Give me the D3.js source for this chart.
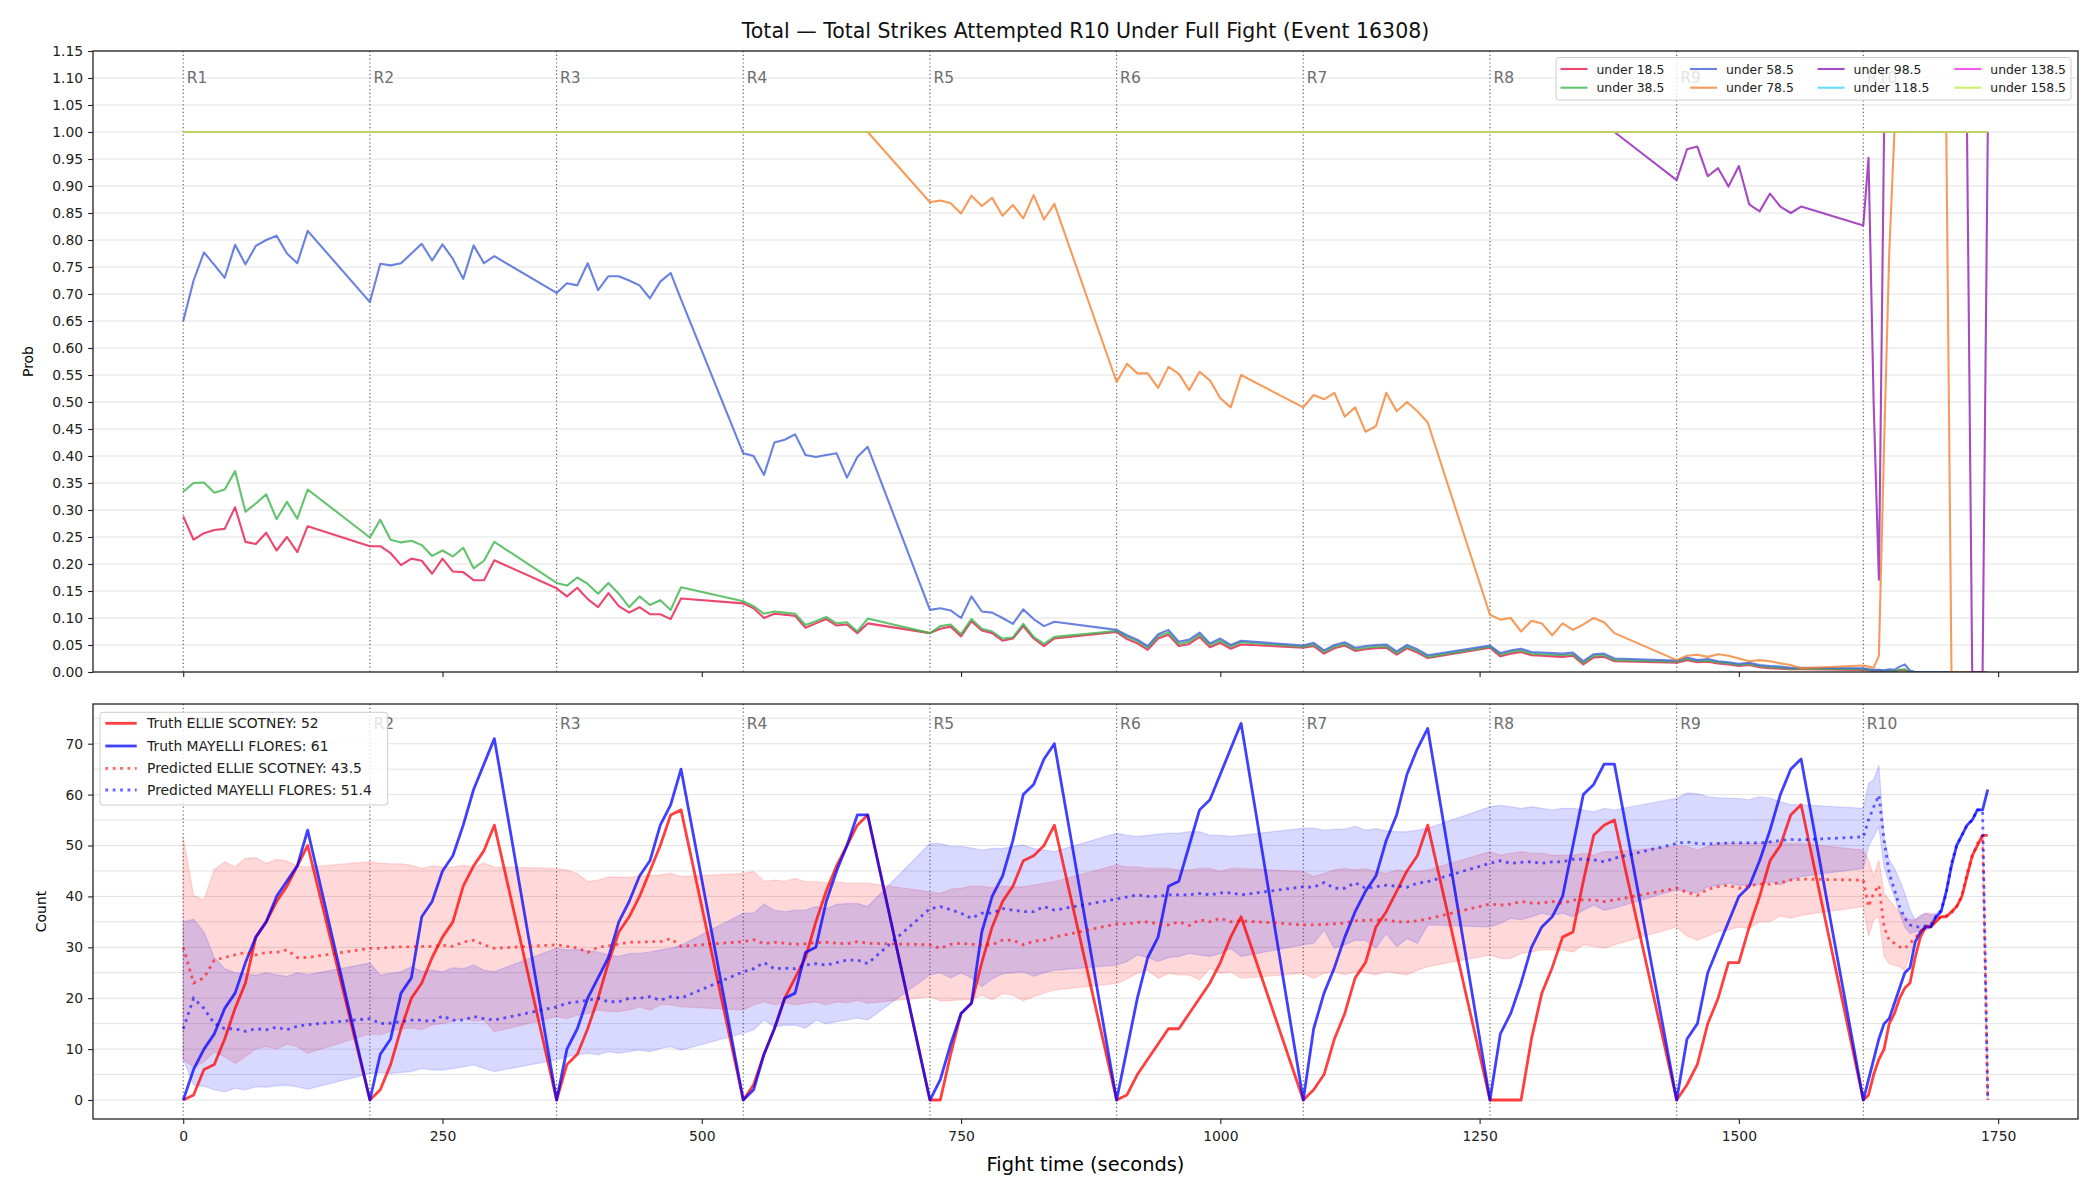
<!DOCTYPE html>
<html>
<head>
<meta charset="utf-8">
<title>Total Strikes Attempted R10</title>
<script src="https://cdn.jsdelivr.net/npm/d3@7"></script>
<style>
  body { margin: 0; background: #fff; }
  svg { display: block; font-family: "DejaVu Sans", sans-serif; }
</style>
</head>
<body>
<div id="chart"></div>
<script>
// rounds: start second + where the samples sit inside a round
var roundStarts = [0, 180, 360, 540, 720, 900, 1080, 1260, 1440, 1620];
var roundNames = ["R1", "R2", "R3", "R4", "R5", "R6", "R7", "R8", "R9", "R10"];
var offsets = [0, 10, 20, 30, 40, 50, 60, 70, 80, 90, 100, 110, 120];
// last round is sampled finer (5s)
var lastOffsets = [0, 5, 10, 15, 20, 25, 30, 35, 40, 45, 50, 55, 60, 65, 70, 75, 80, 85, 90, 95, 100, 105, 110, 115, 120];

var titleText = "Total \u2014 Total Strikes Attempted R10 Under Full Fight (Event 16308)";
var probTicks = [0, 0.05, 0.1, 0.15, 0.2, 0.25, 0.3, 0.35, 0.4, 0.45, 0.5, 0.55, 0.6, 0.65, 0.7, 0.75, 0.8, 0.85, 0.9, 0.95, 1, 1.05, 1.1, 1.15];
var countTicks = [0, 10, 20, 30, 40, 50, 60, 70];
var countGrid = [0, 5, 10, 15, 20, 25, 30, 35, 40, 45, 50, 55, 60, 65, 70, 75];
var timeTicks = [0, 250, 500, 750, 1000, 1250, 1500, 1750];

// top panel: P(total < line)
var lineNames = ["under 18.5", "under 38.5", "under 58.5", "under 78.5", "under 98.5", "under 118.5", "under 138.5", "under 158.5"];
var lineColors = ["#e6194B", "#3cb44b", "#4363d8", "#f58231", "#911eb4", "#42d4f4", "#f032e6", "#bfef45"];

var under18 = [
  [0.288, 0.245, 0.257, 0.263, 0.265, 0.305, 0.241, 0.237, 0.258, 0.225, 0.25, 0.222, 0.27],
  [0.233, 0.233, 0.22, 0.198, 0.21, 0.206, 0.182, 0.21, 0.186, 0.185, 0.17, 0.17, 0.207],
  [0.155, 0.14, 0.156, 0.135, 0.12, 0.146, 0.122, 0.11, 0.12, 0.107, 0.107, 0.098, 0.136],
  [0.127, 0.118, 0.1, 0.108, 0.106, 0.104, 0.082, 0.09, 0.098, 0.086, 0.088, 0.072, 0.09],
  [0.072, 0.08, 0.084, 0.066, 0.094, 0.077, 0.072, 0.058, 0.062, 0.085, 0.062, 0.048, 0.062],
  [0.074, 0.061, 0.053, 0.041, 0.062, 0.069, 0.048, 0.052, 0.065, 0.046, 0.054, 0.043, 0.051],
  [0.045, 0.048, 0.034, 0.044, 0.049, 0.039, 0.042, 0.044, 0.045, 0.032, 0.044, 0.036, 0.026],
  [0.045, 0.029, 0.034, 0.037, 0.031, 0.03, 0.029, 0.028, 0.03, 0.014, 0.027, 0.028, 0.02],
  [0.017, 0.022, 0.018, 0.019, 0.016, 0.014, 0.011, 0.013, 0.009, 0.007, 0.006, 0.005, 0.005],
  [0.004, 0.003, 0.002, 0.002, 0.001, 0.002, 0.001, 0.003, 0.003, 0, 0, 0, 0, 0, 0, 0, 0, 0, 0, 0, 0, 0, 0, 0, 0]
];
var under38 = [
  [0.334, 0.35, 0.351, 0.332, 0.338, 0.372, 0.297, 0.312, 0.329, 0.283, 0.315, 0.284, 0.338],
  [0.249, 0.282, 0.245, 0.24, 0.243, 0.235, 0.215, 0.225, 0.214, 0.23, 0.192, 0.206, 0.241],
  [0.165, 0.16, 0.175, 0.163, 0.145, 0.165, 0.145, 0.12, 0.14, 0.124, 0.133, 0.115, 0.157],
  [0.131, 0.122, 0.108, 0.112, 0.11, 0.108, 0.087, 0.094, 0.102, 0.09, 0.092, 0.075, 0.099],
  [0.072, 0.085, 0.088, 0.07, 0.098, 0.08, 0.075, 0.062, 0.064, 0.089, 0.065, 0.052, 0.065],
  [0.076, 0.065, 0.057, 0.045, 0.066, 0.073, 0.052, 0.056, 0.069, 0.05, 0.058, 0.047, 0.055],
  [0.047, 0.051, 0.037, 0.047, 0.052, 0.042, 0.045, 0.047, 0.048, 0.035, 0.047, 0.039, 0.028],
  [0.047, 0.032, 0.037, 0.04, 0.034, 0.033, 0.032, 0.031, 0.033, 0.017, 0.03, 0.031, 0.022],
  [0.019, 0.024, 0.02, 0.021, 0.018, 0.016, 0.013, 0.015, 0.011, 0.009, 0.008, 0.006, 0.006],
  [0.005, 0.004, 0.003, 0.003, 0.002, 0.003, 0.002, 0.004, 0.005, 0.001, 0, 0, 0, 0, 0, 0, 0, 0, 0, 0, 0, 0, 0, 0, 0]
];
var under58 = [
  [0.65, 0.725, 0.777, 0.754, 0.73, 0.791, 0.755, 0.789, 0.8, 0.808, 0.775, 0.757, 0.817],
  [0.685, 0.756, 0.753, 0.757, 0.775, 0.793, 0.762, 0.792, 0.765, 0.728, 0.79, 0.757, 0.77],
  [0.702, 0.72, 0.716, 0.757, 0.707, 0.733, 0.733, 0.725, 0.716, 0.692, 0.723, 0.739, 0.69],
  [0.405, 0.4, 0.365, 0.425, 0.43, 0.44, 0.402, 0.398, 0.402, 0.405, 0.36, 0.398, 0.417],
  [0.115, 0.118, 0.114, 0.1, 0.14, 0.112, 0.11, 0.1, 0.089, 0.116, 0.098, 0.085, 0.093],
  [0.078, 0.068, 0.06, 0.048, 0.07, 0.078, 0.056, 0.06, 0.073, 0.053, 0.062, 0.05, 0.058],
  [0.049, 0.054, 0.04, 0.05, 0.055, 0.045, 0.048, 0.05, 0.051, 0.038, 0.05, 0.042, 0.031],
  [0.049, 0.035, 0.04, 0.043, 0.037, 0.036, 0.035, 0.034, 0.036, 0.02, 0.033, 0.034, 0.025],
  [0.021, 0.027, 0.022, 0.024, 0.02, 0.018, 0.015, 0.017, 0.013, 0.011, 0.01, 0.008, 0.008],
  [0.007, 0.005, 0.004, 0.004, 0.003, 0.005, 0.004, 0.01, 0.014, 0.003, 0, 0, 0, 0, 0, 0, 0, 0, 0, 0, 0, 0, 0, 0, 0]
];
var under78 = [
  [1, 1, 1, 1, 1, 1, 1, 1, 1, 1, 1, 1, 1],
  [1, 1, 1, 1, 1, 1, 1, 1, 1, 1, 1, 1, 1],
  [1, 1, 1, 1, 1, 1, 1, 1, 1, 1, 1, 1, 1],
  [1, 1, 1, 1, 1, 1, 1, 1, 1, 1, 1, 1, 1],
  [0.87, 0.873, 0.868, 0.849, 0.882, 0.863, 0.878, 0.845, 0.865, 0.84, 0.883, 0.838, 0.867],
  [0.537, 0.571, 0.553, 0.553, 0.526, 0.565, 0.552, 0.522, 0.556, 0.54, 0.507, 0.49, 0.55],
  [0.49, 0.513, 0.505, 0.517, 0.473, 0.49, 0.445, 0.455, 0.517, 0.483, 0.5, 0.483, 0.462],
  [0.106, 0.097, 0.1, 0.075, 0.095, 0.09, 0.068, 0.09, 0.078, 0.088, 0.1, 0.092, 0.072],
  [0.022, 0.03, 0.032, 0.028, 0.033, 0.03, 0.025, 0.02, 0.022, 0.02, 0.016, 0.013, 0.007],
  [0.012, 0.01, 0.008, 0.03, 0.418, 0.777, 1, 1, 1, 1, 1, 1, 1, 1, 1, 1, 1, 0, 0, 0, 0, 0, 0, 0, 0]
];
var under98 = [
  [1, 1, 1, 1, 1, 1, 1, 1, 1, 1, 1, 1, 1],
  [1, 1, 1, 1, 1, 1, 1, 1, 1, 1, 1, 1, 1],
  [1, 1, 1, 1, 1, 1, 1, 1, 1, 1, 1, 1, 1],
  [1, 1, 1, 1, 1, 1, 1, 1, 1, 1, 1, 1, 1],
  [1, 1, 1, 1, 1, 1, 1, 1, 1, 1, 1, 1, 1],
  [1, 1, 1, 1, 1, 1, 1, 1, 1, 1, 1, 1, 1],
  [1, 1, 1, 1, 1, 1, 1, 1, 1, 1, 1, 1, 1],
  [1, 1, 1, 1, 1, 1, 1, 1, 1, 1, 1, 1, 1],
  [0.911, 0.968, 0.973, 0.918, 0.933, 0.899, 0.937, 0.866, 0.853, 0.886, 0.862, 0.85, 0.862],
  [0.827, 0.952, 0.495, 0.171, 1, 1, 1, 1, 1, 1, 1, 1, 1, 1, 1, 1, 1, 1, 1, 1, 1, 0, 0, 0, 1]
];
var under118 = [
  [1, 1, 1, 1, 1, 1, 1, 1, 1, 1, 1, 1, 1],
  [1, 1, 1, 1, 1, 1, 1, 1, 1, 1, 1, 1, 1],
  [1, 1, 1, 1, 1, 1, 1, 1, 1, 1, 1, 1, 1],
  [1, 1, 1, 1, 1, 1, 1, 1, 1, 1, 1, 1, 1],
  [1, 1, 1, 1, 1, 1, 1, 1, 1, 1, 1, 1, 1],
  [1, 1, 1, 1, 1, 1, 1, 1, 1, 1, 1, 1, 1],
  [1, 1, 1, 1, 1, 1, 1, 1, 1, 1, 1, 1, 1],
  [1, 1, 1, 1, 1, 1, 1, 1, 1, 1, 1, 1, 1],
  [1, 1, 1, 1, 1, 1, 1, 1, 1, 1, 1, 1, 1],
  [1, 1, 1, 1, 1, 1, 1, 1, 1, 1, 1, 1, 1, 1, 1, 1, 1, 1, 1, 1, 1, 1, 1, 1, 1]
];
var under138 = [
  [1, 1, 1, 1, 1, 1, 1, 1, 1, 1, 1, 1, 1],
  [1, 1, 1, 1, 1, 1, 1, 1, 1, 1, 1, 1, 1],
  [1, 1, 1, 1, 1, 1, 1, 1, 1, 1, 1, 1, 1],
  [1, 1, 1, 1, 1, 1, 1, 1, 1, 1, 1, 1, 1],
  [1, 1, 1, 1, 1, 1, 1, 1, 1, 1, 1, 1, 1],
  [1, 1, 1, 1, 1, 1, 1, 1, 1, 1, 1, 1, 1],
  [1, 1, 1, 1, 1, 1, 1, 1, 1, 1, 1, 1, 1],
  [1, 1, 1, 1, 1, 1, 1, 1, 1, 1, 1, 1, 1],
  [1, 1, 1, 1, 1, 1, 1, 1, 1, 1, 1, 1, 1],
  [1, 1, 1, 1, 1, 1, 1, 1, 1, 1, 1, 1, 1, 1, 1, 1, 1, 1, 1, 1, 1, 1, 1, 1, 1]
];
var under158 = [
  [1, 1, 1, 1, 1, 1, 1, 1, 1, 1, 1, 1, 1],
  [1, 1, 1, 1, 1, 1, 1, 1, 1, 1, 1, 1, 1],
  [1, 1, 1, 1, 1, 1, 1, 1, 1, 1, 1, 1, 1],
  [1, 1, 1, 1, 1, 1, 1, 1, 1, 1, 1, 1, 1],
  [1, 1, 1, 1, 1, 1, 1, 1, 1, 1, 1, 1, 1],
  [1, 1, 1, 1, 1, 1, 1, 1, 1, 1, 1, 1, 1],
  [1, 1, 1, 1, 1, 1, 1, 1, 1, 1, 1, 1, 1],
  [1, 1, 1, 1, 1, 1, 1, 1, 1, 1, 1, 1, 1],
  [1, 1, 1, 1, 1, 1, 1, 1, 1, 1, 1, 1, 1],
  [1, 1, 1, 1, 1, 1, 1, 1, 1, 1, 1, 1, 1, 1, 1, 1, 1, 1, 1, 1, 1, 1, 1, 1, 1]
];

// bottom panel: counts per round
var fighters = ["ELLIE SCOTNEY", "MAYELLI FLORES"];
var finalTruth = [52, 61];
var finalPred = [43.5, 51.4];

var truthEllie = [
  [0, 1, 6, 7, 12, 18, 23, 32, 35, 39, 42, 46, 50],
  [0, 2, 7, 14, 20, 23, 28, 32, 35, 42, 46, 49, 54],
  [0, 7, 9, 14, 20, 27, 33, 36, 40, 45, 50, 56, 57],
  [0, 3, 9, 14, 20, 24, 28, 35, 41, 46, 50, 54, 56],
  [0, 0, 9, 17, 19, 27, 34, 39, 42, 47, 48, 50, 54],
  [0, 1, 5, 8, 11, 14, 14, 17, 20, 23, 27, 32, 36],
  [0, 2, 5, 12, 17, 24, 27, 34, 37, 41, 45, 48, 54],
  [0, 0, 0, 0, 12, 21, 26, 32, 33, 43, 52, 54, 55],
  [0, 3, 7, 15, 20, 27, 27, 34, 40, 47, 50, 56, 58],
  [0, 1, 5, 8, 10, 15, 17, 20, 22, 23, 28, 32, 34, 34, 35, 36, 36, 37, 38, 40, 44, 48, 50, 52, 52]
];
var truthMayelli = [
  [0, 6, 10, 13, 18, 21, 27, 32, 35, 40, 43, 46, 53],
  [0, 9, 12, 21, 24, 36, 39, 45, 48, 54, 61, 66, 71],
  [0, 10, 14, 20, 24, 28, 35, 39, 44, 47, 54, 58, 65],
  [0, 2, 9, 14, 20, 21, 29, 30, 39, 45, 50, 56, 56],
  [0, 4, 11, 17, 19, 33, 40, 44, 51, 60, 62, 67, 70],
  [0, 10, 20, 28, 32, 42, 43, 50, 57, 59, 64, 69, 74],
  [0, 14, 21, 26, 32, 37, 41, 44, 51, 56, 64, 69, 73],
  [0, 13, 17, 23, 30, 34, 36, 40, 50, 60, 62, 66, 66],
  [0, 12, 15, 25, 30, 35, 40, 42, 47, 53, 60, 65, 67],
  [0, 4, 8, 12, 15, 16, 19, 22, 25, 26, 31, 33, 34, 34, 36, 37, 41, 46, 50, 52, 54, 55, 57, 57, 61]
];
var predEllie = [
  [30, 23, 24, 27.5, 28, 28.5, 29, 28.5, 29, 29, 29.5, 28, 28],
  [29.8, 29.8, 30, 30.1, 30.1, 30.2, 30.2, 30.4, 30.2, 31, 31.4, 30.5, 29.8],
  [30.5, 30.2, 29.9, 29, 30, 30.3, 30.6, 31, 31, 31.1, 31.1, 31.7, 30.2],
  [31.1, 31.5, 30.7, 31, 30.8, 30.6, 30.7, 30.9, 31, 30.8, 30.7, 31.1, 30.8],
  [30.5, 29.8, 30.6, 30.8, 30.6, 30.5, 30.5, 31.4, 31.4, 30.5, 31.2, 31.4, 32],
  [34.6, 34.6, 34.9, 35, 34.6, 34.4, 35, 34.3, 35.4, 35, 35.7, 35, 35.2],
  [34.4, 34.4, 34.5, 34.6, 34.8, 35.2, 35.3, 35.4, 35.4, 35, 35, 35.2, 35.6],
  [38.5, 38.3, 38.5, 39, 38.7, 38.7, 39, 38.6, 39.3, 39.3, 39.3, 39, 39.3],
  [41.6, 40.8, 40.2, 41.4, 41.9, 42.2, 41.6, 42.1, 42.4, 42.4, 42.7, 43.2, 43.4],
  [43.2, 38, 40.6, 42.2, 34, 31.4, 30.8, 30.1, 29.8, 30.8, 31.8, 33.1, 34, 34.4, 35.4, 36, 36.2, 36.7, 38, 40, 44.5, 47.8, 50.4, 52, 0]
];
var predMayelli = [
  [14, 20, 18, 15, 14, 14, 13.5, 14, 13.8, 14.3, 13.8, 14.5, 14.8],
  [16, 15, 15.1, 15.4, 15.7, 15.7, 15.4, 16.5, 15.7, 15.7, 16.4, 16, 15.7],
  [18.3, 19, 19.3, 19.6, 20, 19.3, 19.3, 20, 20, 20.3, 19.6, 20.3, 20],
  [25.2, 25.8, 27, 25.8, 25.9, 25.8, 26.5, 26.8, 26.5, 27, 27.5, 27.5, 26.8],
  [37.6, 38, 37.4, 36.7, 35.7, 36.7, 36.7, 37.6, 37.3, 37, 37, 38, 37.3],
  [39.5, 39.9, 40.3, 40, 40, 40.3, 40.3, 40.3, 40.6, 40.3, 40.7, 40.7, 40.3],
  [41.9, 41.8, 42.7, 41.6, 41.6, 42.7, 41.6, 41.9, 42.2, 42, 41.8, 42.6, 42.9],
  [46.5, 47, 46.5, 46.7, 46.8, 46.5, 46.8, 46.8, 47.3, 47.3, 47.2, 46.8, 47.5],
  [50.4, 50.7, 50.4, 50.3, 50.4, 50.5, 50.5, 50.5, 50.5, 50.7, 51, 51.2, 51.1],
  [51.7, 55, 57.6, 59.9, 51, 44.5, 41.3, 38, 35.7, 34.4, 34, 34, 34.2, 34.4, 36, 37.3, 40.6, 46.5, 50, 52, 54, 55, 57, 57, 0]
];
// uncertainty bands (upper / lower)
var ellieHi = [
  [51.6, 40.2, 39.3, 45.3, 46.8, 45.8, 47.5, 47.6, 46.5, 47.3, 46.9, 46, 45.8],
  [46.8, 46.5, 46.4, 46.4, 46.1, 45.5, 46, 45.8, 45.8, 46.1, 45.8, 46.5, 45.8],
  [45.5, 45.2, 44.5, 42.9, 43.2, 43.8, 43.8, 43.7, 44, 44.1, 44.2, 44.5, 43.9],
  [44.5, 44.9, 43, 43.2, 43, 43.5, 42.9, 42.9, 42.7, 42.9, 42.6, 42.6, 42.6],
  [40.9, 40.6, 41.4, 41.6, 42, 42, 41.7, 42, 41.9, 41.9, 42.2, 42.6, 42.9],
  [46.2, 45.8, 45.8, 45.5, 45.5, 45.5, 45.2, 45.2, 45.5, 45.5, 44.9, 45.5, 45.5],
  [44.9, 43.9, 44.5, 45.2, 45.5, 45.2, 45.5, 44.9, 44.5, 45.2, 44.9, 44.9, 45.2],
  [48.8, 48.1, 48.5, 48.8, 48.5, 48.5, 48.1, 48.1, 48.1, 48.5, 48.1, 48.8, 48.8],
  [49.8, 49.8, 49.1, 49.8, 50.4, 50.4, 50.4, 50.4, 50.4, 50.8, 50.4, 50.4, 50.4],
  [49.1, 47.2, 43.9, 47.2, 40.6, 39.3, 38, 37, 36, 35.4, 35.4, 36, 36.7, 36.7, 36.3, 36, 36.2, 36.7, 38, 40, 44.5, 47.8, 50.4, 52, 0]
];
var ellieLo = [
  [8, 6.5, 7.5, 9.5, 8.5, 7.2, 8.5, 10, 10.5, 10, 11, 10.5, 9.2],
  [13, 12.8, 13.5, 14, 14.2, 13.8, 14.8, 15, 15.5, 16, 15.5, 15.7, 13.4],
  [16.4, 16, 16.7, 17, 17.7, 17.4, 17.4, 17.7, 18.3, 17.7, 18.7, 18.7, 18.3],
  [17.7, 18.7, 19.3, 18.7, 19.1, 18.7, 19, 19.3, 18.7, 19.3, 19.1, 19.6, 19],
  [20.3, 19.5, 19.5, 19.7, 19.8, 20.6, 19.7, 20.9, 20.6, 19.5, 20.3, 21, 21.6],
  [22.9, 23.8, 24.9, 25.5, 23.9, 24.9, 24.6, 24.6, 23.6, 25.9, 24.9, 25.2, 23.9],
  [24.9, 23.9, 24.9, 25.2, 24.6, 25.2, 25, 24.6, 25.2, 24.9, 24.6, 25.5, 26.2],
  [28.5, 27.8, 27.8, 28.8, 29.1, 29.5, 29.5, 29.5, 29.1, 30.5, 30.2, 29.8, 30.5],
  [34, 32.2, 31.4, 32.2, 33.1, 33.4, 34, 33.7, 35, 35, 36.2, 35.7, 36.3],
  [38, 32.1, 35.4, 36, 28.2, 26.8, 26.5, 26.2, 25.5, 28.8, 31.4, 32.7, 33.7, 34, 35, 36, 36.2, 36.7, 38, 40, 44.5, 47.8, 50.4, 52, 0]
];
var mayelliHi = [
  [35, 35.5, 33, 28, 25.8, 25, 24.8, 24.5, 25, 24.6, 24.3, 25, 24.6],
  [26.9, 24.5, 24.9, 25.2, 26.2, 25.3, 25.5, 25.2, 26, 25.8, 26.5, 25.5, 25.2],
  [29.8, 29.5, 29.6, 29.3, 29.1, 28.5, 28.2, 28.8, 28.8, 29.1, 29.5, 29.8, 30.4],
  [36.7, 36.7, 38.5, 37.3, 37, 37.3, 37.3, 38, 37.6, 38.4, 38.6, 38.6, 38],
  [50.4, 50.4, 49.8, 49.8, 49.5, 49.1, 49.4, 49.4, 49.8, 50.1, 49.4, 49.1, 48.8],
  [52.4, 52, 51.8, 52, 52.2, 52.4, 52.4, 52.7, 52.7, 52, 52, 51.8, 52],
  [53.4, 53.4, 53, 53.2, 53.2, 53.8, 53, 53.3, 52.9, 52.7, 52.7, 53, 53.4],
  [57.6, 57.9, 57.6, 57.3, 57.6, 57.3, 57, 57.3, 57.3, 57, 56.6, 57.3, 57],
  [59.3, 60.3, 60.2, 59.6, 59.4, 59.3, 59.2, 59, 59.6, 59.3, 58.6, 58, 58],
  [57.3, 62.2, 62.9, 65.8, 51.7, 47.2, 45.5, 43.2, 40.6, 37.3, 35.4, 36.3, 36.7, 36.3, 36.7, 37.3, 40.6, 46.5, 50, 52, 54, 55, 57, 57, 0]
];
var mayelliLo = [
  [8, 3, 2.7, 2, 1.6, 2.3, 2, 2.6, 2.5, 2.8, 2.9, 2.6, 2.1],
  [5.2, 5.4, 5.2, 5.4, 5.6, 6.2, 5.9, 5.9, 6.2, 6.5, 6.9, 6.2, 5.6],
  [7.9, 8.5, 8.9, 9.2, 8.9, 9.5, 9.2, 9.5, 9.8, 9.5, 10.1, 10.5, 9.8],
  [13.1, 13.8, 15.7, 14.4, 14.7, 14.7, 14.1, 15.7, 15, 15.4, 15.7, 16.1, 15.7],
  [24.6, 25, 24, 25, 24, 22.3, 23.8, 24.8, 25, 25.2, 24.3, 25, 25.5],
  [26.5, 27.2, 28.5, 28, 27.2, 28, 28.2, 28.8, 28.5, 28.2, 28.8, 29.8, 28.2],
  [30.5, 30.8, 33.4, 29.8, 30.5, 31.4, 31.4, 29.8, 32.7, 30.1, 31.7, 30.8, 34.4],
  [34, 34.7, 35.7, 35.4, 36, 36.7, 36.3, 36.7, 36, 37.3, 38.3, 37.3, 37.7],
  [41.3, 41, 40.6, 41.9, 42.2, 42.6, 42.2, 42.2, 42.4, 42.9, 42.3, 43.2, 43.9],
  [45.5, 49.8, 51.7, 53.7, 45.8, 42.6, 40, 36.7, 34, 32.7, 33.1, 33.1, 33.4, 33.7, 35.4, 37.3, 40.6, 46.5, 50, 52, 54, 55, 57, 57, 0]
];

// ---------- time axis built from round starts ----------
var times = [];
roundStarts.forEach(function(s, i) {
  var offs = i == roundStarts.length - 1 ? lastOffsets : offsets;
  offs.forEach(function(o) {
    times.push(s + o);
  });
});

function pts(rounds) {
  var vals = d3.merge(rounds);
  if (vals.length != times.length) console.log("length mismatch", vals.length, times.length);
  return vals.map(function(v, i) {
    return [times[i], v];
  });
}

var width = 2100;
var height = 1200;
var left = 93,
  right = 2078;
var topPanel = { y0: 51, y1: 672 };
var botPanel = { y0: 704, y1: 1119 };
var font = "DejaVu Sans, sans-serif";

var x = d3.scaleLinear().domain([-87, 1827]).range([left, right]);
var yTop = d3.scaleLinear().domain([0, 1.15]).range([topPanel.y1, topPanel.y0]);
var yBot = d3.scaleLinear().domain([-3.73, 77.8]).range([botPanel.y1, botPanel.y0]);

var svg = d3
  .select("#chart")
  .append("svg")
  .attr("width", width)
  .attr("height", height);

var defs = svg.append("defs");
[["clipTop", topPanel], ["clipBot", botPanel]].forEach(function(c) {
  defs
    .append("clipPath")
    .attr("id", c[0])
    .append("rect")
    .attr("x", left)
    .attr("y", c[1].y0)
    .attr("width", right - left)
    .attr("height", c[1].y1 - c[1].y0);
});

// title
svg
  .append("text")
  .attr("x", (left + right) / 2)
  .attr("y", 31)
  .attr("text-anchor", "middle")
  .attr("dominant-baseline", "central")
  .style("font-family", font)
  .style("font-size", "20.5px")
  .attr("fill", "#111")
  .text(titleText);

// gridlines (horizontal only)
function grid(vals, yScale) {
  svg
    .append("g")
    .selectAll("line")
    .data(vals)
    .enter()
    .append("line")
    .attr("x1", left)
    .attr("x2", right)
    .attr("y1", function(d) { return yScale(d); })
    .attr("y2", function(d) { return yScale(d); })
    .attr("stroke", "#e2e2e2")
    .attr("stroke-width", 1);
}
grid(probTicks, yTop);
grid(countGrid, yBot);

// round markers
function rounds(panel, labelY) {
  var g = svg.append("g");
  g.selectAll("line")
    .data(roundStarts)
    .enter()
    .append("line")
    .attr("x1", function(d) { return x(d); })
    .attr("x2", function(d) { return x(d); })
    .attr("y1", panel.y0)
    .attr("y2", panel.y1)
    .attr("stroke", "#555")
    .attr("stroke-width", 1.1)
    .attr("stroke-dasharray", "1.2,2.6");
  g.selectAll("text")
    .data(roundStarts)
    .enter()
    .append("text")
    .attr("x", function(d) { return x(d) + 3.5; })
    .attr("y", labelY)
    .attr("dominant-baseline", "central")
    .style("font-family", font)
    .style("font-size", "15.5px")
    .attr("fill", "#6e6e6e")
    .text(function(d, i) { return roundNames[i]; });
}
rounds(topPanel, yTop(1.1));
rounds(botPanel, yBot(73.8));

// ---------- top panel lines ----------
var probSeries = [under18, under38, under58, under78, under98, under118, under138, under158];
var line = d3
  .line()
  .x(function(d) { return x(d[0]); })
  .y(function(d) { return yTop(d[1]); });

svg
  .append("g")
  .attr("clip-path", "url(#clipTop)")
  .selectAll("path")
  .data(probSeries.map(pts))
  .enter()
  .append("path")
  .attr("d", line)
  .attr("fill", "none")
  .attr("stroke", function(d, i) { return lineColors[i]; })
  .attr("stroke-opacity", 0.8)
  .attr("stroke-width", 2.1)
  .attr("stroke-linejoin", "round");

// ---------- bottom panel ----------
var gb = svg.append("g").attr("clip-path", "url(#clipBot)");

var band = d3
  .area()
  .x(function(d) { return x(d[0]); })
  .y0(function(d) { return yBot(d[1]); })
  .y1(function(d) { return yBot(d[2]); });

function bandPts(lo, hi) {
  var a = pts(lo),
    b = d3.merge(hi);
  return a.map(function(p, i) {
    return [p[0], p[1], b[i]];
  });
}

[[ellieLo, ellieHi, "red"], [mayelliLo, mayelliHi, "blue"]].forEach(function(b) {
  gb.append("path")
    .attr("d", band(bandPts(b[0], b[1])))
    .attr("fill", b[2])
    .attr("fill-opacity", 0.15)
    .attr("stroke", b[2])
    .attr("stroke-opacity", 0.12)
    .attr("stroke-width", 1.4);
});

var cline = d3
  .line()
  .x(function(d) { return x(d[0]); })
  .y(function(d) { return yBot(d[1]); });

// truth lines
[[truthEllie, "red"], [truthMayelli, "blue"]].forEach(function(s) {
  gb.append("path")
    .attr("d", cline(pts(s[0])))
    .attr("fill", "none")
    .attr("stroke", s[1])
    .attr("stroke-opacity", 0.75)
    .attr("stroke-width", 2.8)
    .attr("stroke-linejoin", "round");
});

// predicted (dotted)
[[predEllie, "red"], [predMayelli, "blue"]].forEach(function(s) {
  gb.append("path")
    .attr("d", cline(pts(s[0])))
    .attr("fill", "none")
    .attr("stroke", s[1])
    .attr("stroke-opacity", 0.6)
    .attr("stroke-width", 2.8)
    .attr("stroke-dasharray", "2.8,4.6");
});

// ---------- axes ----------
function styleAxis(g) {
  g.select(".domain").remove();
  g.selectAll(".tick line").attr("stroke", "#222").attr("stroke-width", 1.1);
  g.selectAll(".tick text")
    .attr("fill", "#222")
    .style("font-family", font)
    .style("font-size", "13.9px");
}

svg
  .append("g")
  .attr("transform", "translate(" + left + ",0)")
  .call(d3.axisLeft(yTop).tickValues(probTicks).tickFormat(d3.format(".2f")).tickSize(4.9).tickPadding(4.9))
  .call(styleAxis);
svg
  .append("g")
  .attr("transform", "translate(0," + topPanel.y1 + ")")
  .call(d3.axisBottom(x).tickValues(timeTicks).tickFormat("").tickSize(4.9))
  .call(styleAxis);
svg
  .append("g")
  .attr("transform", "translate(" + left + ",0)")
  .call(d3.axisLeft(yBot).tickValues(countTicks).tickSize(4.9).tickPadding(4.9))
  .call(styleAxis);
svg
  .append("g")
  .attr("transform", "translate(0," + botPanel.y1 + ")")
  .call(d3.axisBottom(x).tickValues(timeTicks).tickFormat(d3.format("d")).tickSize(4.9).tickPadding(7))
  .call(styleAxis);

// frames
[topPanel, botPanel].forEach(function(p) {
  svg
    .append("rect")
    .attr("x", left)
    .attr("y", p.y0)
    .attr("width", right - left)
    .attr("height", p.y1 - p.y0)
    .attr("fill", "none")
    .attr("stroke", "#222")
    .attr("stroke-width", 1.3);
});

// axis labels
svg
  .append("text")
  .attr("transform", "translate(28," + (topPanel.y0 + topPanel.y1) / 2 + ") rotate(-90)")
  .attr("text-anchor", "middle")
  .attr("dominant-baseline", "central")
  .style("font-family", font)
  .style("font-size", "13.9px")
  .text("Prob");
svg
  .append("text")
  .attr("transform", "translate(41," + (botPanel.y0 + botPanel.y1) / 2 + ") rotate(-90)")
  .attr("text-anchor", "middle")
  .attr("dominant-baseline", "central")
  .style("font-family", font)
  .style("font-size", "13.9px")
  .text("Count");
svg
  .append("text")
  .attr("x", (left + right) / 2)
  .attr("y", 1164)
  .attr("text-anchor", "middle")
  .attr("dominant-baseline", "central")
  .style("font-family", font)
  .style("font-size", "19.4px")
  .text("Fight time (seconds)");

// ---------- legends ----------
// top: 4 columns x 2 rows, column-major
var lg = svg.append("g");
lg.append("rect")
  .attr("x", 1556)
  .attr("y", 57.5)
  .attr("width", 515)
  .attr("height", 42.5)
  .attr("rx", 3)
  .attr("fill", "#fff")
  .attr("fill-opacity", 0.8)
  .attr("stroke", "#cccccc");
var colX = [1560.5, 1690, 1817.6, 1954.3];
var rowY = [69, 87.7];
lineNames.forEach(function(name, i) {
  var cx = colX[Math.floor(i / 2)],
    cy = rowY[i % 2];
  lg.append("line")
    .attr("x1", cx)
    .attr("x2", cx + 27)
    .attr("y1", cy)
    .attr("y2", cy)
    .attr("stroke", lineColors[i])
    .attr("stroke-opacity", 0.8)
    .attr("stroke-width", 2.1);
  lg.append("text")
    .attr("x", cx + 36)
    .attr("y", cy)
    .attr("dominant-baseline", "central")
    .style("font-family", font)
    .style("font-size", "12.4px")
    .attr("fill", "#222")
    .text(name);
});

// bottom: truth + predicted
var bl = svg.append("g");
bl.append("rect")
  .attr("x", 100)
  .attr("y", 712.3)
  .attr("width", 287.7)
  .attr("height", 92.7)
  .attr("rx", 3)
  .attr("fill", "#fff")
  .attr("fill-opacity", 0.8)
  .attr("stroke", "#cccccc");
var entries = [
  { text: "Truth " + fighters[0] + ": " + finalTruth[0], color: "red", dotted: false },
  { text: "Truth " + fighters[1] + ": " + finalTruth[1], color: "blue", dotted: false },
  { text: "Predicted " + fighters[0] + ": " + finalPred[0], color: "red", dotted: true },
  { text: "Predicted " + fighters[1] + ": " + finalPred[1], color: "blue", dotted: true }
];
var entryY = [723.3, 746, 768.3, 790];
entries.forEach(function(e, i) {
  bl.append("line")
    .attr("x1", 105.3)
    .attr("x2", 136.7)
    .attr("y1", entryY[i])
    .attr("y2", entryY[i])
    .attr("stroke", e.color)
    .attr("stroke-opacity", e.dotted ? 0.6 : 0.75)
    .attr("stroke-width", 2.8)
    .attr("stroke-dasharray", e.dotted ? "2.8,4.6" : null);
  bl.append("text")
    .attr("x", 147)
    .attr("y", entryY[i])
    .attr("dominant-baseline", "central")
    .style("font-family", font)
    .style("font-size", "13.9px")
    .attr("fill", "#222")
    .text(e.text);
});
</script>
</body>
</html>
